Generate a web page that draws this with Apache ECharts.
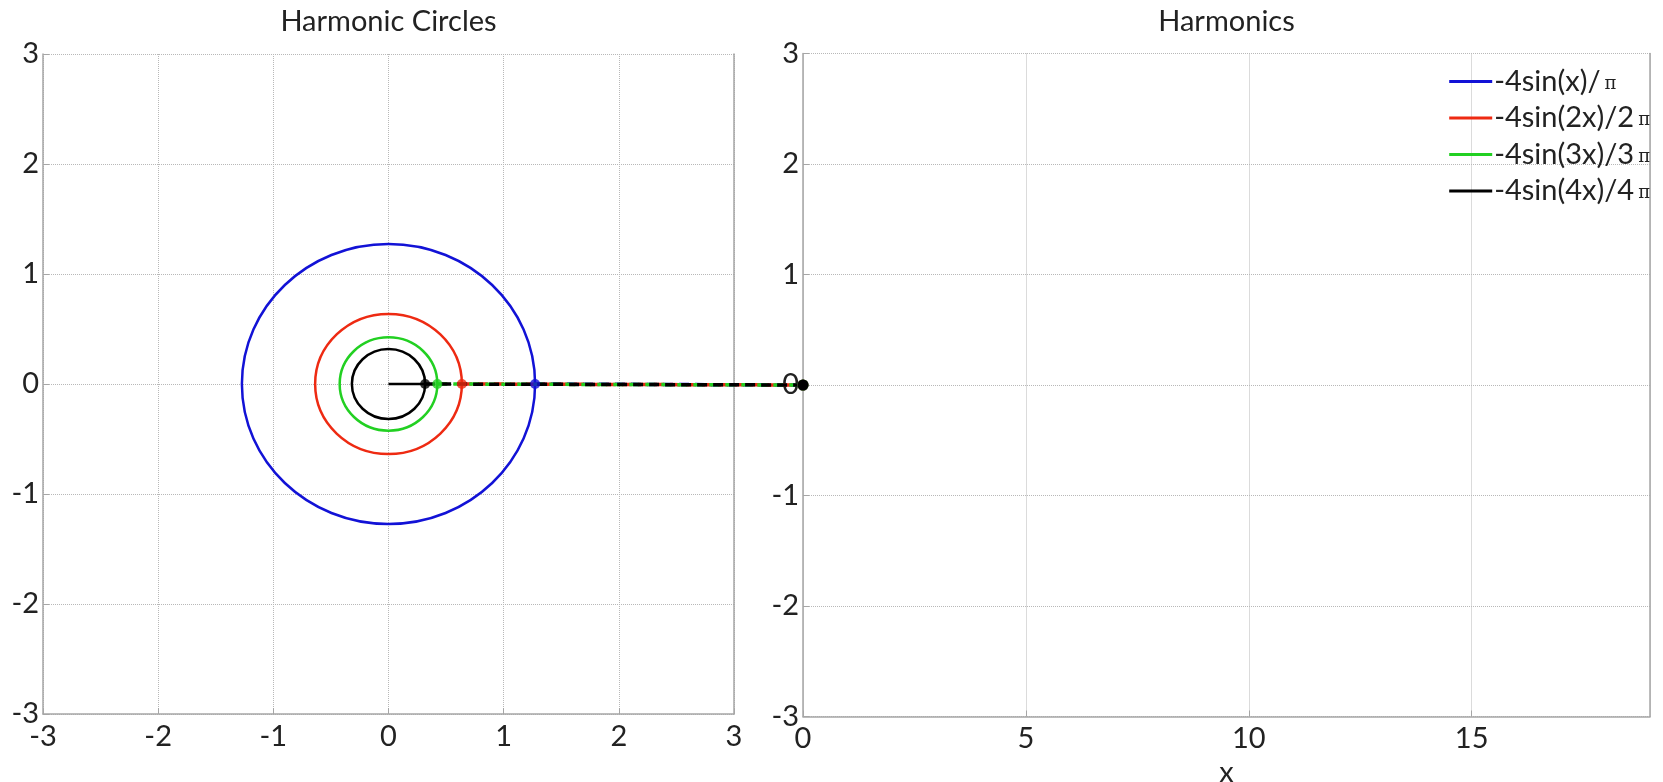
<!DOCTYPE html>
<html>
<head>
<meta charset="utf-8">
<script src="https://cdn.jsdelivr.net/npm/echarts@6/dist/echarts.min.js"></script>
<style>
html,body{margin:0;padding:0;background:#fff;}
#chart{width:1663px;height:782px;}
</style>
</head>
<body>
<div id="chart"></div>
<script>
// ---- data ----
const harmonicNames = ['-4sin(x)/π', '-4sin(2x)/2π', '-4sin(3x)/3π', '-4sin(4x)/4π'];
const circleCenterX = [0, 0, 0, 0];
const circleCenterY = [0, 0, 0, 0];
const circleRadii = [1.273, 0.637, 0.424, 0.318];
const pointX = [1.273, 0.637, 0.424, 0.318];
const pointY = [0, 0, 0, 0];
const waveX = [0, 0, 0, 0];
const waveY = [0, 0, 0, 0];
const leftRange = [-3, 3];
const rightXRange = [0, 19];
const rightYRange = [-3, 3];

// ---- styles ----
const colors = ['#1212d6', '#ee2a12', '#22d022', '#000000'];
const FONT = 'Lato, "Noto Sans", sans-serif';
const labelColor = '#222';
const axisColor = '#a6a6a6';

const chart = echarts.init(document.getElementById('chart'), null, {renderer: 'canvas'});

const L = {left: 43, top: 54, width: 691, height: 660};
const R = {left: 803, top: 53.5, width: 847, height: 663};

function baseAxis(extra) {
  return Object.assign({
    type: 'value',
    axisLine: {show: true, onZero: false, lineStyle: {color: axisColor, width: 1.5}},
    axisTick: {show: true, inside: true, length: 6, lineStyle: {color: axisColor, width: 1}},
    splitLine: {show: true, lineStyle: {type: 'dotted', color: '#b8b8b8', width: 1}},
    axisLabel: {color: labelColor, fontFamily: FONT, fontSize: 29, showMinLabel: true, showMaxLabel: true}
  }, extra);
}
function borderAxis(gridIndex, min, max) {
  return {
    type: 'value', gridIndex: gridIndex, position: 'right', min: min, max: max,
    axisLine: {show: true, onZero: false, lineStyle: {color: axisColor, width: 1.5}},
    axisTick: {show: false}, axisLabel: {show: false}, splitLine: {show: false}
  };
}

const series = [];
// circles (left)
circleRadii.forEach((r, i) => {
  series.push({
    type: 'custom', xAxisIndex: 0, yAxisIndex: 0, silent: true, z: 3,
    data: [[circleCenterX[i], circleCenterY[i], r]],
    encode: {x: 0, y: 1},
    clip: false,
    renderItem: function (params, api) {
      const c = api.coord([api.value(0), api.value(1)]);
      const s = api.size([api.value(2), api.value(2)]);
      return {
        type: 'ellipse',
        shape: {cx: c[0], cy: c[1], rx: s[0], ry: s[1]},
        style: {fill: 'none', stroke: colors[i], lineWidth: 2.5}
      };
    }
  });
});
// radius vector of smallest circle
series.push({
  type: 'line', xAxisIndex: 0, yAxisIndex: 0, silent: true, z: 4, symbol: 'none',
  data: [[circleCenterX[3], circleCenterY[3]], [pointX[3], pointY[3]]],
  lineStyle: {color: colors[3], width: 2.5}
});
// points on circles
pointX.forEach((x, i) => {
  series.push({
    type: 'scatter', xAxisIndex: 0, yAxisIndex: 0, silent: true, z: 6,
    data: [[x, pointY[i]]], symbolSize: 10,
    itemStyle: {color: colors[i], borderColor: colors[i], borderWidth: 0}
  });
});
// harmonic waves (right)
harmonicNames.forEach((name, i) => {
  series.push({
    name: name, type: 'line', xAxisIndex: 1, yAxisIndex: 2, z: 6,
    data: [[waveX[i], waveY[i]]],
    symbol: 'circle', symbolSize: 11, showSymbol: true,
    itemStyle: {color: colors[i]},
    lineStyle: {color: colors[i], width: 2.5},
    clip: false
  });
});

const option = {
  backgroundColor: '#fff',
  animation: false,
  grid: [
    Object.assign({outerBoundsMode: 'none', containLabel: false}, L),
    Object.assign({outerBoundsMode: 'none', containLabel: false}, R)
  ],
  xAxis: [
    baseAxis({gridIndex: 0, min: leftRange[0], max: leftRange[1], interval: 1,
      axisLabel: {color: labelColor, fontFamily: FONT, fontSize: 29, margin: 8, showMinLabel: true, showMaxLabel: true}}),
    baseAxis({gridIndex: 1, min: rightXRange[0], max: rightXRange[1], interval: 5,
      name: 'x', nameLocation: 'middle', nameGap: 39,
      nameTextStyle: {color: labelColor, fontFamily: FONT, fontSize: 29},
      axisLabel: {color: labelColor, fontFamily: FONT, fontSize: 29, margin: 8, showMinLabel: true, showMaxLabel: false}})
  ],
  yAxis: [
    baseAxis({gridIndex: 0, min: leftRange[0], max: leftRange[1], interval: 1,
      axisLabel: {color: labelColor, fontFamily: FONT, fontSize: 29, margin: 4, showMinLabel: true, showMaxLabel: true}}),
    borderAxis(0, leftRange[0], leftRange[1]),
    baseAxis({gridIndex: 1, min: rightYRange[0], max: rightYRange[1], interval: 1,
      axisLabel: {color: labelColor, fontFamily: FONT, fontSize: 29, margin: 4, showMinLabel: true, showMaxLabel: true}}),
    borderAxis(1, rightYRange[0], rightYRange[1])
  ],
  legend: {
    data: harmonicNames,
    orient: 'vertical',
    right: 13, top: 67,
    align: 'left',
    icon: 'rect',
    itemWidth: 43, itemHeight: 3,
    itemGap: 7.5,
    padding: 0,
    selectedMode: false,
    textStyle: {
      color: labelColor, fontFamily: FONT, fontSize: 29, lineHeight: 28, padding: [0, 0, 0, -3],
      rich: {p: {fontFamily: '"DejaVu Serif", "Liberation Serif", serif', fontSize: 18, color: labelColor, padding: [5, 0, 0, 4]}}
    },
    formatter: function (name) { return name.replace('π', '{p|π}'); }
  },
  series: series
};
chart.setOption(option);

// titles and connectors from each circle point to the origin of the harmonics plot, through the scales
function drawConnectors() {
  const elements = [];
  elements.push({type: 'text', x: L.left + L.width / 2, y: 22, silent: true,
    style: {text: 'Harmonic Circles', font: '29px ' + FONT, fill: labelColor, align: 'center', verticalAlign: 'middle'}});
  elements.push({type: 'text', x: R.left + R.width / 2, y: 22, silent: true,
    style: {text: 'Harmonics', font: '29px ' + FONT, fill: labelColor, align: 'center', verticalAlign: 'middle'}});
  pointX.forEach((x, i) => {
    const a = chart.convertToPixel({xAxisIndex: 0, yAxisIndex: 0}, [x, pointY[i]]);
    const b = chart.convertToPixel({xAxisIndex: 1, yAxisIndex: 2}, [waveX[i], waveY[i]]);
    elements.push({
      type: 'line', z: 5, silent: true,
      shape: {x1: a[0], y1: a[1], x2: b[0], y2: b[1]},
      style: {stroke: colors[i], lineWidth: 3.5, lineDash: [10, 6]}
    });
  });
  chart.setOption({graphic: {elements: elements}});
}
drawConnectors();
</script>
</body>
</html>
